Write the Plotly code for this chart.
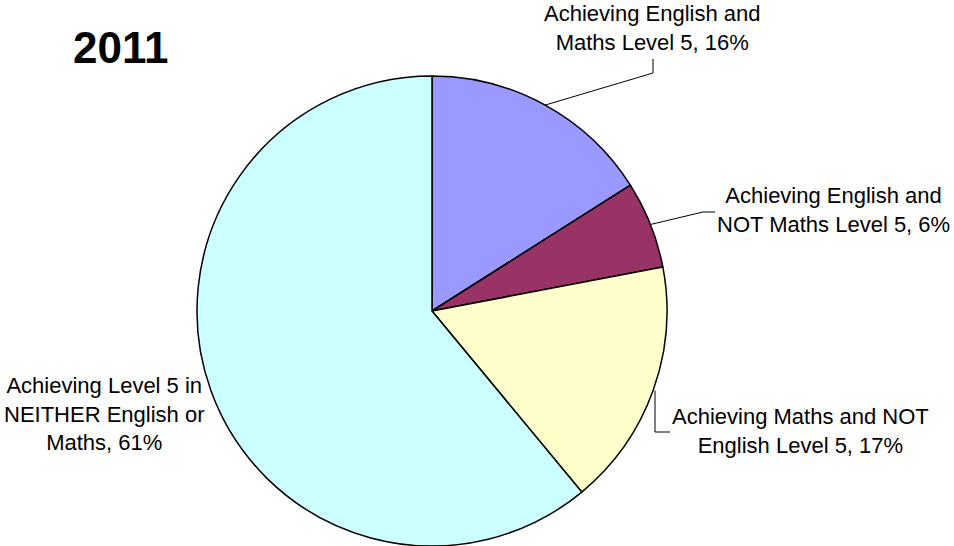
import math
import plotly.graph_objects as go

# ---- data ----
categories = [
    "Achieving English and Maths Level 5",
    "Achieving English and NOT Maths Level 5",
    "Achieving Maths and NOT English Level 5",
    "Achieving Level 5 in NEITHER English or Maths",
]
label_texts = [
    "Achieving English and<br>Maths Level 5, 16%",
    "Achieving English and<br>NOT Maths Level 5, 6%",
    "Achieving Maths and NOT<br>English Level 5, 17%",
    "Achieving Level 5 in<br>NEITHER English or<br>Maths, 61%",
]
values = [16, 6, 17, 61]
colors = ["#9999FF", "#993366", "#FFFFCC", "#CCFFFF"]
title_text = "2011"

# ---- layout geometry (pixels) ----
W, H = 954, 546
cx, cy, R = 432, 311, 235

def px(x):
    return x / W

def py(y):
    return 1 - y / H

fig = go.Figure(go.Pie(
    labels=categories,
    values=values,
    sort=False,
    direction="clockwise",
    rotation=0,
    marker=dict(colors=colors, line=dict(color="black", width=1.5)),
    textinfo="none",
    hoverinfo="label+percent",
    showlegend=False,
    domain=dict(x=[px(cx - R), px(cx + R)], y=[py(cy + R), py(cy - R)]),
))

# label positions (centre of text block) and leader elbows
label_pos = [(652, 28), (833, 210), (800, 431), (104, 414)]
leaders = [
    [(653, 73), (653, 59)],
    [(703, 212), (715, 212)],
    [(655, 432), (670, 432)],
    None,
]

total = sum(values)
cum = 0
shapes = []
annotations = []
for i, v in enumerate(values):
    mid = (cum + v / 2) / total * 2 * math.pi
    cum += v
    sx = cx + R * math.sin(mid)
    sy = cy - R * math.cos(mid)
    if leaders[i]:
        pts = [(sx, sy)] + leaders[i]
        if i == 2:
            pts = [(leaders[i][0][0], sy)] + leaders[i]
        path = "M " + " L ".join(f"{px(x)},{py(y)}" for x, y in pts)
        shapes.append(dict(type="path", path=path, xref="paper", yref="paper",
                           line=dict(color="black", width=1)))
    lx, ly = label_pos[i]
    annotations.append(dict(
        text=label_texts[i], x=px(lx), y=py(ly), xref="paper", yref="paper",
        xanchor="center", yanchor="middle", showarrow=False, align="center",
        font=dict(family="Liberation Sans, Arial, sans-serif", size=22, color="black"),
    ))

annotations.append(dict(
    text="<b>" + title_text + "</b>", x=px(120), y=py(47), xref="paper", yref="paper",
    xanchor="center", yanchor="middle", showarrow=False,
    font=dict(family="Liberation Sans, Arial, sans-serif", size=44, color="black"),
))

fig.update_layout(
    width=W, height=H,
    margin=dict(l=0, r=0, t=0, b=0),
    paper_bgcolor="white", plot_bgcolor="white",
    shapes=shapes, annotations=annotations,
)

fig.write_html("out.html", config={"displayModeBar": False},
               post_script="document.body.style.margin='0';")
